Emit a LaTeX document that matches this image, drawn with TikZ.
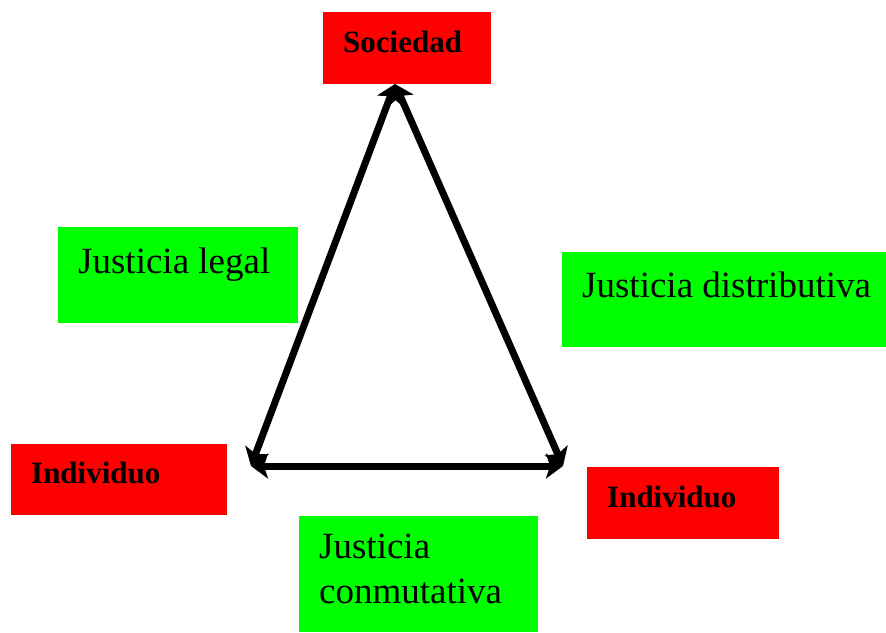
\documentclass[tikz,border=0pt]{standalone}
\usepackage{fontspec}
\setmainfont{Liberation Serif}
\usetikzlibrary{arrows.meta}
\definecolor{boxred}{RGB}{255,0,0}
\definecolor{boxgreen}{RGB}{0,255,0}
\tikzset{
  box/.style={rectangle, inner sep=0pt, outer sep=0pt, anchor=north west},
  redbox/.style={box, fill=boxred},
  greenbox/.style={box, fill=boxgreen},
  boldlbl/.style={anchor=base west, inner sep=0pt, font=\fontsize{31}{37}\selectfont\bfseries},
  plainlbl/.style={anchor=base west, inner sep=0pt, font=\fontsize{37}{45}\selectfont},
  arr/.style={line width=7pt, {Stealth[length=17pt,width=25pt,inset=4pt]}-{Stealth[length=17pt,width=25pt,inset=4pt]}}
}
\begin{document}
\begin{tikzpicture}[x=1pt,y=-1pt]
\useasboundingbox (0,0) rectangle (886,632);
% boxes
\node[redbox, minimum width=168pt, minimum height=72pt] (socbox) at (323,12) {};
\node[redbox, minimum width=216pt, minimum height=71pt] (indLbox) at (11,444) {};
\node[redbox, minimum width=192pt, minimum height=72pt] (indRbox) at (587,467) {};
\node[greenbox, minimum width=240pt, minimum height=96pt] (legbox) at (58,227) {};
\node[greenbox, minimum width=324pt, minimum height=95pt] (disbox) at (562,252) {};
\node[greenbox, minimum width=239pt, minimum height=116pt] (conbox) at (299,516) {};
% labels
\node[boldlbl] (soc) at (343,52) {Sociedad};
\node[boldlbl] (indL) at (31,483) {Individuo};
\node[boldlbl] (indR) at (607,507) {Individuo};
\node[plainlbl] (leg) at (78,273) {Justicia legal};
\node[plainlbl] (dis) at (582,297) {Justicia distributiva};
\node[plainlbl] (con1) at (319,558) {Justicia};
\node[plainlbl] (con2) at (319,603) {conmutativa};
% triangle
\coordinate (apex) at (395,84);
\coordinate (bl) at (251,466);
\coordinate (br) at (563,466);
\draw[arr] (apex) -- (bl);
\draw[arr] (apex) -- (br);
\draw[arr] (bl) -- (br);
\end{tikzpicture}
\end{document}
